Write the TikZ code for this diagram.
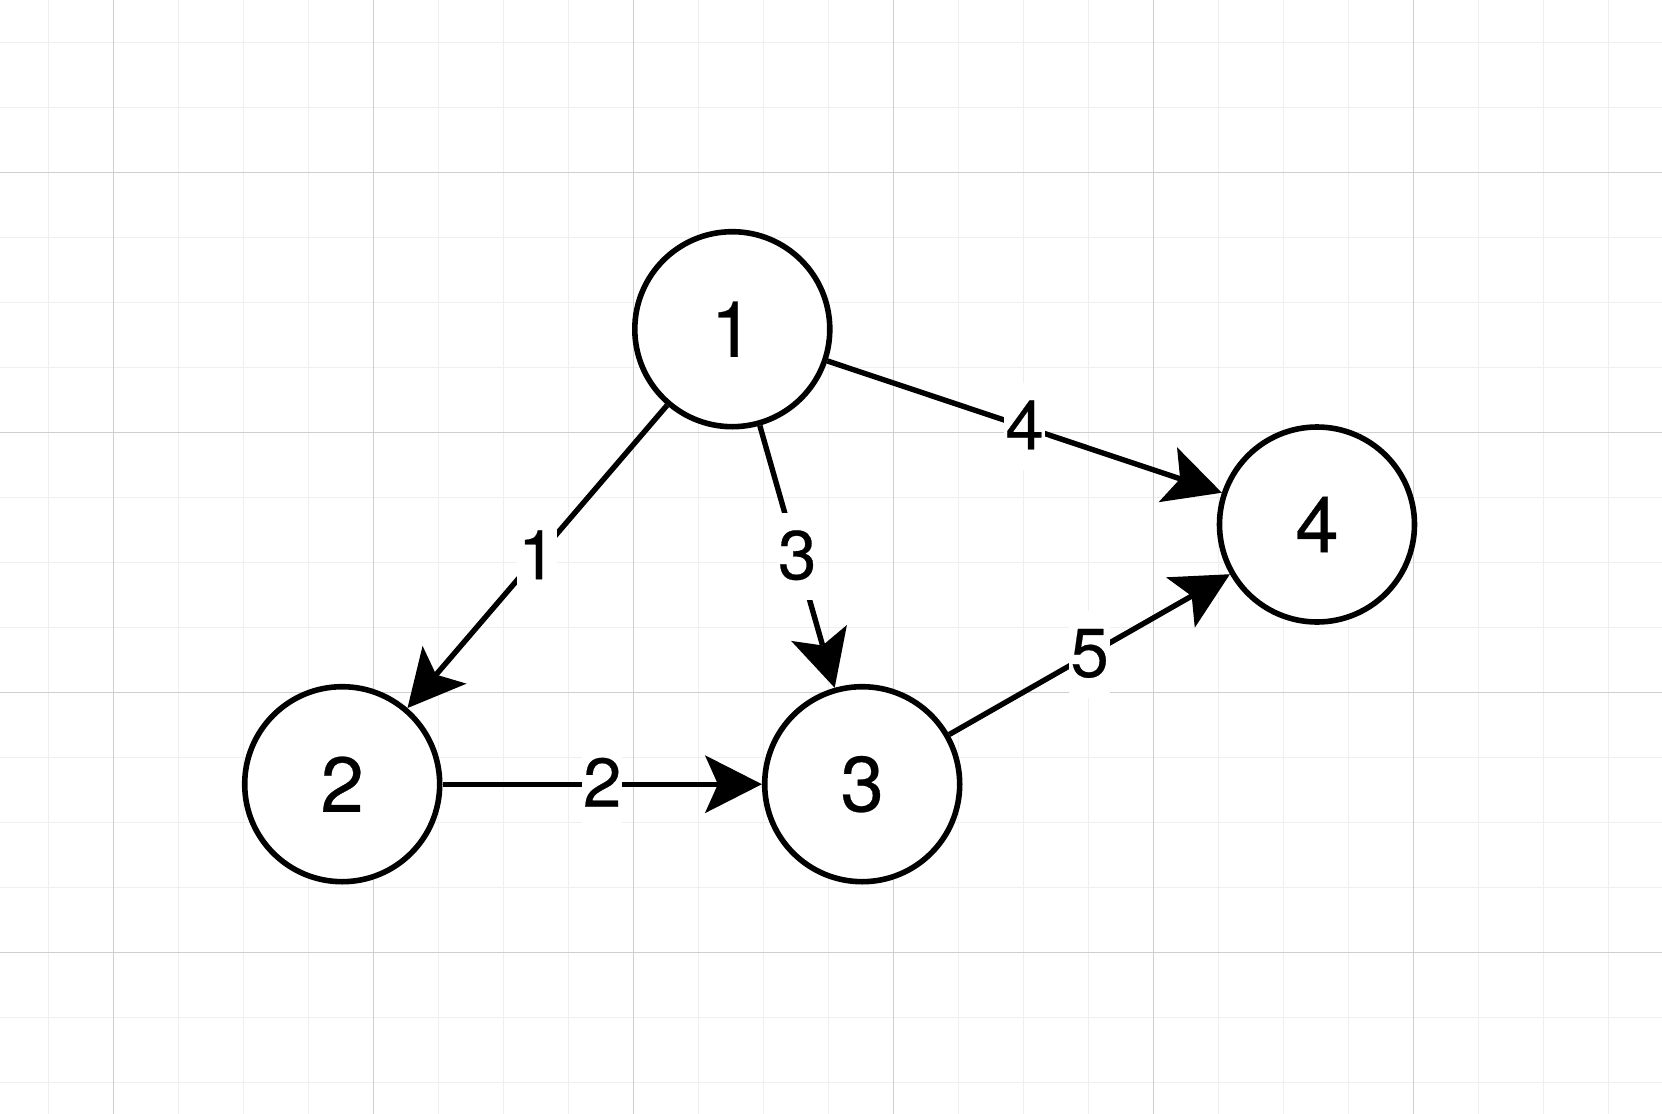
\documentclass[tikz,border=0pt]{standalone}
\usepackage{fontspec}
\setmainfont{TeX Gyre Heros}[FakeBold=0.35]
\usetikzlibrary{arrows.meta}
\definecolor{minorc}{HTML}{EFEFEF}
\definecolor{majorc}{HTML}{CFCFCF}
\tikzset{
  minorgrid/.style={draw=minorc, line width=0.8pt},
  majorgrid/.style={draw=majorc, line width=0.55pt},
  vertex/.style={circle, draw=black, fill=white, line width=2.8pt, minimum size=97.5pt, inner sep=0pt,
    font=\fontsize{39}{47}\selectfont},
  edge/.style={draw=black, line width=2.7pt,
    -{Stealth[length=28.5pt, width=29pt, inset=6.5pt, line width=0pt]}},
  lbl/.style={fill=white, inner xsep=0.5pt, inner ysep=0pt, text height=33pt, text depth=10.5pt,
    font=\fontsize{34.5}{41}\selectfont}
}
\begin{document}
\begin{tikzpicture}[x=0.5pt, y=-0.5pt]
\useasboundingbox (0,0) rectangle (1662,1114);
\fill[white] (0,0) rectangle (1662,1114);
\begin{scope}
\clip (0,0) rectangle (1662,1114);
\foreach \i in {-1,...,23} {
  \pgfmathsetmacro\xx{113.3+65*\i}
  \draw[minorgrid] (\xx,0) -- (\xx,1114);
}
\foreach \j in {-2,...,14} {
  \pgfmathsetmacro\yy{172.3+65*\j}
  \draw[minorgrid] (0,\yy) -- (1662,\yy);
}
\foreach \xx in {113.3,373.3,633.3,893.3,1153.3,1413.3} {
  \draw[majorgrid] (\xx,0) -- (\xx,1114);
}
\foreach \yy in {172.3,432.3,692.3,952.3} {
  \draw[majorgrid] (0,\yy) -- (1662,\yy);
}
\end{scope}

\node[vertex] (n1) at (732.3,329.2) {1};
\node[vertex] (n2) at (342.2,784.2) {2};
\node[vertex] (n3) at (862.2,784.2) {3};
\node[vertex] (n4) at (1317,524.5) {4};

\draw[edge] (n1) -- node[lbl] (l1) {1} (n2);
\draw[edge] (n1) -- node[lbl] (l3) {3} (n3);
\draw[edge] (n1) -- node[lbl] (l4) {4} (n4);
\draw[edge] (n2) -- node[lbl] (l2) {2} (n3);
\draw[edge] (n3) -- node[lbl] (l5) {5} (n4);
\end{tikzpicture}
\end{document}
